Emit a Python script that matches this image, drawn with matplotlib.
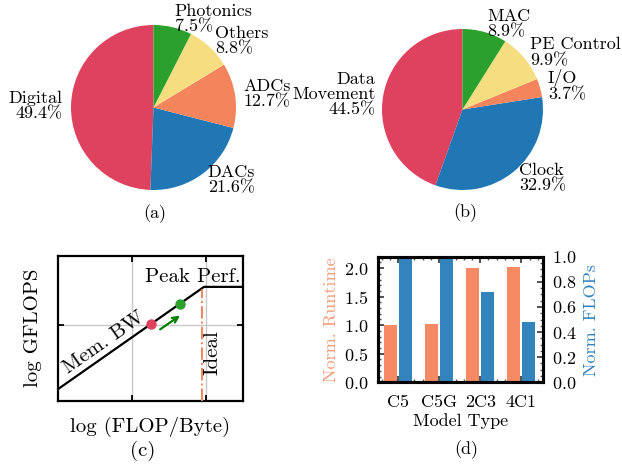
import matplotlib
matplotlib.use("Agg")
import matplotlib.pyplot as plt
from matplotlib.ticker import AutoMinorLocator, NullFormatter
import numpy as np

plt.rcParams['font.family'] = ['cmr10', 'DejaVu Serif']
plt.rcParams['mathtext.fontset'] = 'cm'
plt.rcParams['axes.formatter.use_mathtext'] = True
plt.rcParams['axes.unicode_minus'] = False

FS = 13
FSC = 15

# ---------------- data ----------------
pie_a_labels = ['Digital', 'DACs', 'ADCs', 'Others', 'Photonics']
pie_a_values = [49.4, 21.6, 12.7, 8.8, 7.5]

pie_b_labels = ['Data\nMovement', 'Clock', 'I/O', 'PE Control', 'MAC']
pie_b_values = [44.5, 32.9, 3.7, 9.9, 8.9]

pie_colors = ['#df425e', '#2077b4', '#f4845c', '#f5dd80', '#2ca02c']

models = ['C5', 'C5G', '2C3', '4C1']
norm_runtime = [1.0, 1.02, 2.0, 2.02]
norm_flops = [1.0, 1.0, 0.72, 0.48]

roof_x = [0.0, 7.9, 10.0]
roof_y = [0.65, 6.28, 6.28]
pt_before = (5.0, 4.21)
pt_after = (6.6, 5.35)
ideal_x = 7.79
ideal_top = 6.16

W, H = 622, 465
fig = plt.figure(figsize=(W / 100, H / 100), dpi=100)


def px_axes(x0, y0, x1, y1):
    return fig.add_axes([x0 / W, 1 - y1 / H, (x1 - x0) / W, (y1 - y0) / H])


def draw_pie(cx, cy, r, labels, values, caption, cap_x, cap_y):
    ax = px_axes(cx - r, cy - r, cx + r, cy + r)
    lab = [f"{l}\n{v:.1f}%" for l, v in zip(labels, values)]
    ax.pie(values, labels=lab, colors=pie_colors, startangle=90,
           counterclock=True, labeldistance=1.1,
           wedgeprops=dict(linewidth=0), textprops=dict(fontsize=FS, linespacing=1.0))
    ax.set_xlim(-1, 1)
    ax.set_ylim(-1, 1)
    ax.set_aspect('equal')
    ax.axis('off')
    fig.text(cap_x / W, 1 - cap_y / H, caption, ha='center', va='center', fontsize=FS)


draw_pie(153.5, 107.5, 82.5, pie_a_labels, pie_a_values, '(a)', 154.5, 213.5)
draw_pie(462.5, 109.5, 80.5, pie_b_labels, pie_b_values, '(b)', 465, 213)

# ---------------- (c) roofline ----------------
axc = px_axes(58.3, 255.7, 242.7, 400.7)
axc.set_xlim(0, 10)
axc.set_ylim(0, 8)
axc.set_xticks([4, 8.03])
axc.set_yticks([4.18])
axc.xaxis.set_major_formatter(NullFormatter())
axc.yaxis.set_major_formatter(NullFormatter())
axc.grid(True, color='#c8c8c8', linewidth=1.0)
axc.tick_params(direction='in', length=4, width=1.3, top=True, right=True)
for s in axc.spines.values():
    s.set_linewidth(1.6)
axc.plot(roof_x, roof_y, color='black', linewidth=1.6, zorder=3)
axc.plot([ideal_x, ideal_x], [0, ideal_top], color='#f4845c', linewidth=1.4,
         linestyle='-.', zorder=3)
axc.plot(*pt_before, 'o', color='#df425e', markersize=6.5, zorder=4)
axc.plot(*pt_after, 'o', color='#2ca02c', markersize=6.5, zorder=4)
axc.annotate('', xy=(6.72, 4.78), xytext=(5.4, 3.85),
             arrowprops=dict(arrowstyle='->', color='green', lw=1.6))
axc.text(2.45, 3.2, 'Mem. BW', rotation=35, ha='center', va='center', fontsize=FSC)
axc.text(7.3, 6.82, 'Peak Perf.', ha='center', va='center', fontsize=FSC)
axc.text(8.39, 2.63, 'Ideal', rotation=90, ha='center', va='center', fontsize=FSC)
axc.set_xlabel('log (FLOP/Byte)', fontsize=FSC, labelpad=8)
axc.set_ylabel('log GFLOPS', fontsize=FSC, labelpad=8)
fig.text(142.5 / W, 1 - 451 / H, '(c)', ha='center', va='center', fontsize=FSC)

# ---------------- (d) bars ----------------
c_run = '#f58a64'
c_run_lab = '#f59a78'
c_flp = '#3383bd'
axd = px_axes(378.3, 256.7, 542.7, 382.3)
x = np.arange(len(models))
bw = 0.32
axd.bar(x - 0.183, norm_runtime, width=bw, color=c_run, zorder=2)
axd.set_ylim(0, 2.2)
axd.set_xlim(-0.48, 3.52)
axd.set_yticks([0, 0.5, 1.0, 1.5, 2.0])
axd.yaxis.set_minor_locator(AutoMinorLocator())
axd.set_xticks(x)
axd.set_xticklabels(models, fontsize=FS)
axd.xaxis.set_minor_locator(AutoMinorLocator())
axd.tick_params(axis='both', which='both', direction='in', top=True, labelsize=FS)
axd.tick_params(which='major', length=4, width=1.2, color='#333333')
axd.tick_params(which='minor', length=2.5, width=1.0, color='#555555')
axd.tick_params(axis='x', which='major', pad=9)
axd.tick_params(axis='y', which='major', pad=7)
axd.set_ylabel('Norm. Runtime', color=c_run_lab, fontsize=FS, labelpad=4)
axd.set_xlabel('Model Type', fontsize=FS, labelpad=2)

axr = axd.twinx()
axr.bar(x + 0.183, norm_flops, width=bw, color=c_flp, zorder=2)
axr.set_ylim(0, 1.0)
axr.set_yticks([0, 0.2, 0.4, 0.6, 0.8, 1.0])
axr.yaxis.set_minor_locator(AutoMinorLocator())
axr.tick_params(axis='y', which='both', direction='in', labelsize=FS)
axr.tick_params(which='major', length=4, width=1.2, color='#333333', pad=7)
axr.tick_params(which='minor', length=2.5, width=1.0, color='#555555')
axr.set_ylabel('Norm. FLOPs', color=c_flp, fontsize=FS, labelpad=5)
for a in (axd, axr):
    for s in a.spines.values():
        s.set_linewidth(2.2)
fig.text(466 / W, 1 - 450 / H, '(d)', ha='center', va='center', fontsize=FS)

fig.savefig('out.png', dpi=100)
